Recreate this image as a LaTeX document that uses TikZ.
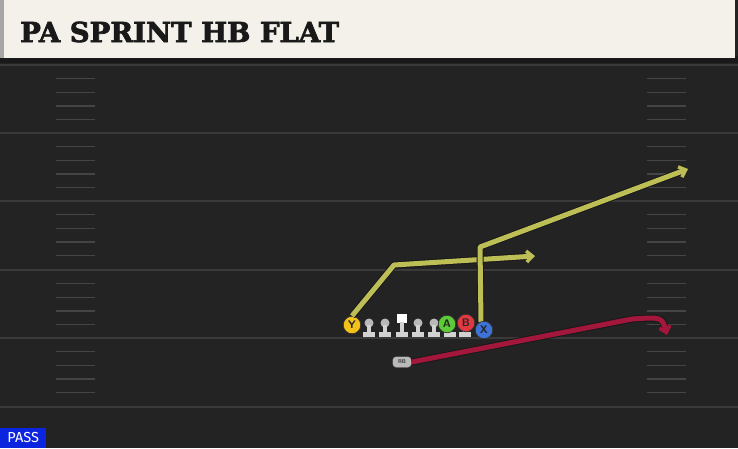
\documentclass[tikz,border=0pt]{standalone}
\usepackage{fontspec}
\usetikzlibrary{positioning}
\usetikzlibrary{arrows.meta}
\usepackage{xcolor}
\newfontfamily\titlefont[BoldFeatures={FakeBold=2.5}]{DejaVu Serif}
\newfontfamily\tagfont{Fira Sans}

\definecolor{fieldgray}{HTML}{232323}
\definecolor{yardgray}{HTML}{3A3A3A}
\definecolor{hashgray}{HTML}{454545}
\definecolor{headcream}{HTML}{F3F1EA}
\definecolor{routeyellow}{HTML}{BDBE56}
\definecolor{routered}{HTML}{A4173D}
\definecolor{passblue}{HTML}{0B24DE}
\definecolor{ycirc}{HTML}{F2C21B}
\definecolor{acirc}{HTML}{5CCB37}
\definecolor{bcirc}{HTML}{E2383F}
\definecolor{xcirc}{HTML}{3D72D6}

\tikzset{
  player/.style={circle, draw=black!80, line width=0.7pt, minimum size=17.5pt, inner sep=0pt,
    font=\sffamily\bfseries\fontsize{11}{11}\selectfont, text=black!85},
  route/.style={line width=5pt, line join=round,
    preaction={draw=black!90, line width=7pt}},
  routetip/.style={-{Straight Barb[length=6pt,width=11pt,line width=3.5pt]}},
}

\newcommand{\lineman}[1]{
  \fill[gray!55] (#1,323) circle (4.5);
  \fill[gray!35] (#1-2,325) rectangle (#1+2,333);
  \fill[gray!35] (#1-6,332) rectangle (#1+6,337);
}

\begin{document}
\begin{tikzpicture}[x=1pt,y=-1pt]

\useasboundingbox (0,0) rectangle (738,448);
\fill[fieldgray] (0,0) rectangle (738,448);

% field lines
{
\foreach \y in {65,133,201,270,338,407}
  \draw[yardgray, line width=1.8pt] (0,\y)--(738,\y);

\foreach \y in {65,133,201,270,338}
  \foreach \k in {1,2,3,4}
  {
    \draw[hashgray, line width=1.4pt] (56,\y+\k*13.6)--++(39,0);
    \draw[hashgray, line width=1.4pt] (647,\y+\k*13.6)--++(39,0);
  }
}

% header
{
\fill[black!90] (0,56) rectangle (738,63);
\fill[headcream] (0,0) rectangle (735,58);
\fill[gray!70] (0,0) rectangle (4,58);
\node[anchor=west, inner sep=0pt, text=black!90] (title) at (20,32)
  {\titlefont\bfseries\fontsize{27.5}{27.5}\selectfont PA SPRINT HB FLAT};
}

% line
{
\foreach \x in {369,385,418,434,450,465}
  \lineman{\x};
\fill[white] (396.5,314) rectangle (406.5,322.5);
\fill[gray!35] (399.5,322) rectangle (403.5,333);
\fill[gray!35] (395.5,332) rectangle (407.5,337);
}

% routes
{
\coordinate (ybend) at (394,265);
\coordinate (yend) at (535,256);
\coordinate (xbreak) at (480,247);
\coordinate (xend) at (688,169);
\coordinate (rbturn) at (632,319);
\coordinate (rbend) at (667,335);

\node[player, fill=ycirc] (Y) at (352,325) {Y};
\node[player, fill=acirc] (A) at (447,324) {A};
\node[player, fill=bcirc] (B) at (466,323) {B};
\node[draw=black!80, fill=gray!55, rounded corners=3.5pt, minimum width=19pt, minimum height=11pt,
  inner sep=0pt, font=\sffamily\bfseries\fontsize{5.5}{5.5}\selectfont, text=black!80] (RB) at (402,362) {RB};

\draw[route, routered, routetip] (RB.east)--(rbturn) .. controls (662,317) .. (rbend);
\draw[route, routeyellow, routetip] (Y.north)--(ybend)--(yend);
\draw[route, routeyellow, routetip] (481,322)--(xbreak)--(xend);

\node[player, fill=xcirc] (X) at (484,330) {X};
}

% labellings
\node[anchor=south west, fill=passblue, minimum width=46pt, minimum height=20pt, inner sep=0pt,
  text=white, font=\tagfont\fontsize{14.5}{14.5}\selectfont] (pass) at (0,448) {PASS};

\end{tikzpicture}
\end{document}
